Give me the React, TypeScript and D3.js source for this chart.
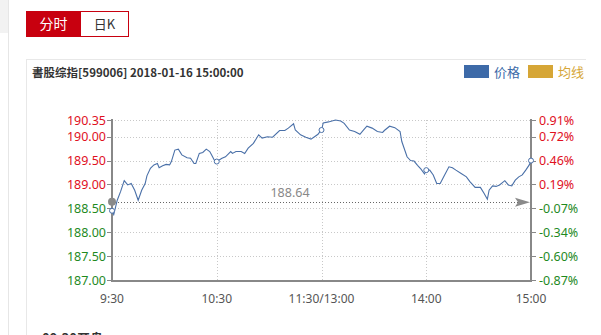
import React from "react";
import * as d3 from "d3";

const title = "書股综指[599006] 2018-01-16 15:00:00";
const prevClose = 188.64;
const priceTicks = [187.0, 187.5, 188.0, 188.5, 189.0, 189.5, 190.0, 190.35];
const timeTicks = [0, 60, 120, 180, 240];
const timeLabels = ["9:30", "10:30", "11:30/13:00", "14:00", "15:00"];
const minutes = [
  0, 1, 3, 5, 7, 9, 11, 13, 15, 17, 19, 20, 22, 24, 26, 27, 29, 31, 33, 34, 36, 38, 40, 43, 45, 47, 48, 50, 52,
  54, 56, 57, 59, 60, 63, 65, 68, 69, 71, 74, 76, 78, 81, 84, 86, 89, 92, 96, 99, 101, 104, 105, 108, 111, 114,
  116, 118, 119, 120, 121, 124, 128, 131, 133, 136, 139, 142, 144, 146, 149, 152, 155, 156, 159, 162, 165, 166,
  169, 171, 173, 175, 177, 179, 180, 182, 184, 186, 188, 190, 193, 195, 197, 200, 203, 205, 208, 211, 213, 215,
  216, 218, 220, 222, 225, 227, 229, 231, 233, 235, 237, 239, 240,
];
const prices = [
  188.45, 188.37, 188.67, 188.86, 189.08, 188.99, 189.02, 188.88, 188.67, 188.88, 189.02, 189.18, 189.34, 189.41,
  189.44, 189.35, 189.39, 189.42, 189.41, 189.48, 189.72, 189.74, 189.62, 189.56, 189.55, 189.44, 189.44, 189.65,
  189.67, 189.74, 189.69, 189.62, 189.48, 189.48, 189.55, 189.58, 189.69, 189.65, 189.69, 189.69, 189.65, 189.76,
  189.86, 190.04, 189.97, 190.0, 189.99, 190.13, 190.13, 190.18, 190.27, 190.14, 190.04, 189.99, 189.95, 190.0,
  190.05, 190.1, 190.14, 190.29, 190.31, 190.35, 190.33, 190.28, 190.14, 190.11, 190.05, 190.14, 190.22, 190.18,
  190.11, 190.09, 190.13, 190.22, 190.19, 190.11, 189.9, 189.58, 189.5, 189.49, 189.4, 189.32, 189.22, 189.3,
  189.3, 189.2, 189.02, 189.02, 189.16, 189.37, 189.35, 189.3, 189.23, 189.16, 189.06, 188.94, 188.94, 188.82,
  188.69, 188.88, 188.97, 188.96, 188.99, 189.08, 188.99, 188.97, 189.09, 189.16, 189.2, 189.3, 189.41, 189.5,
];
const markerMinutes = [0, 60, 120, 180, 240];

const RED = "#e0101e";
const GREEN = "#1f8a1f";
const FONT = "'Noto Sans', 'Noto Sans CJK SC', sans-serif";
const CJK = "'Noto Sans CJK SC', 'Noto Sans', sans-serif";

export default function App() {
  const left = 112;
  const right = 531;
  const top = 120;
  const bottom = 280;
  const x = d3.scaleLinear().domain([0, 240]).range([left, right]);
  const y = d3.scaleLinear().domain([187, 190.35]).range([bottom, top]);
  const data = minutes.map((m, i) => ({ m, p: prices[i] }));
  const line = d3
    .line<{ m: number; p: number }>()
    .x((d) => x(d.m))
    .y((d) => y(d.p));
  const pct = (v: number) => ((v - prevClose) / prevClose) * 100;
  const pctLabel = (v: number) => {
    const p = pct(v);
    const s = p.toFixed(2);
    return (s === "-0.00" ? "0.00" : s) + "%";
  };
  const yc = y(prevClose);

  return (
    <div style={{ position: "fixed", left: 0, top: 0, width: 601, height: 335, background: "#fff" }}>
      <svg width={601} height={335} style={{ display: "block" }}>
        {/* left side panel */}
        <rect x={0} y={0} width={8} height={33} fill="#f2f2f2" />
        <line x1={8.5} y1={0} x2={8.5} y2={335} stroke="#e6e6e6" />
        {/* tabs */}
        <rect x={26} y={11} width={55} height={26} fill="#c8000f" />
        <rect x={80.5} y={11.5} width={48} height={25} fill="#fff" stroke="#c8000f" />
        <text x={53.5} y={29} textAnchor="middle" fill="#fff" fontSize={14} fontFamily={CJK}>
          分时
        </text>
        <text x={104.5} y={29} textAnchor="middle" fill="#333" fontSize={13} fontFamily={CJK}>
          日K
        </text>
        {/* card */}
        <line x1={26} y1={59.5} x2={586} y2={59.5} stroke="#e8e8e8" />
        <line x1={26.5} y1={59} x2={26.5} y2={335} stroke="#e8e8e8" />
        <text x={32} y={77} fontSize={11.5} fontWeight="bold" fill="#333" fontFamily={CJK}>
          {title}
        </text>
        {/* legend */}
        <rect x={464} y={65} width={25} height={13} fill="#3d6aa8" />
        <text x={494} y={77} fontSize={13} fill="#3d6aa8" fontFamily={CJK}>
          价格
        </text>
        <rect x={528} y={65} width={25} height={13} fill="#d6a636" />
        <text x={558} y={77} fontSize={13} fill="#d6a636" fontFamily={CJK}>
          均线
        </text>

        {/* grid */}
        {priceTicks.map((t) => (
          <line
            key={"h" + t}
            x1={left}
            x2={right}
            y1={Math.round(y(t)) + 0.5}
            y2={Math.round(y(t)) + 0.5}
            stroke="#c8c8c8"
            strokeDasharray="1,2"
          />
        ))}
        {timeTicks.slice(1, -1).map((t) => (
          <line
            key={"v" + t}
            x1={Math.round(x(t)) + 0.5}
            x2={Math.round(x(t)) + 0.5}
            y1={top}
            y2={bottom}
            stroke="#c8c8c8"
            strokeDasharray="1,2"
          />
        ))}

        {/* prev close line */}
        <line x1={left} x2={518} y1={Math.round(yc) + 0.5} y2={Math.round(yc) + 0.5} stroke="#666" strokeDasharray="1,2" />
        <path d={`M515,${yc - 4} L530,${yc + 0.5} L515,${yc + 5} L518,${yc + 0.5} Z`} fill="#8a8a8a" />
        <text x={290} y={197} textAnchor="middle" fontSize={12.5} fill="#888" fontFamily={FONT}>
          {prevClose.toFixed(2)}
        </text>

        {/* axes */}
        <line x1={left} x2={left} y1={top - 1} y2={bottom + 2} stroke="#888" strokeWidth={2} />
        <line x1={right} x2={right} y1={top - 1} y2={bottom + 2} stroke="#888" strokeWidth={2} />
        <line x1={left} x2={right} y1={bottom + 1} y2={bottom + 1} stroke="#888" strokeWidth={2} />
        {priceTicks.map((t) => (
          <g key={"t" + t}>
            <line x1={left - 5} x2={left} y1={Math.round(y(t)) + 0.5} y2={Math.round(y(t)) + 0.5} stroke="#888" />
            <line x1={right} x2={right + 5} y1={Math.round(y(t)) + 0.5} y2={Math.round(y(t)) + 0.5} stroke="#888" />
            <text
              x={left - 6}
              y={y(t) + 4.5}
              textAnchor="end"
              fontSize={12.5}
              fill={t >= prevClose ? RED : GREEN}
              fontFamily={FONT}
            >
              {t.toFixed(2)}
            </text>
            <text x={right + 8} y={y(t) + 4.5} fontSize={12.5} fill={t >= prevClose ? RED : GREEN} fontFamily={FONT}>
              {pctLabel(t)}
            </text>
          </g>
        ))}
        {timeTicks.map((t, i) => (
          <text key={"x" + t} x={x(t)} y={303} textAnchor="middle" fontSize={12} fill="#555" fontFamily={FONT}>
            {timeLabels[i]}
          </text>
        ))}

        {/* price line */}
        <path d={line(data) || ""} fill="none" stroke="#4a70a8" strokeWidth={1.1} />
        {markerMinutes.map((m) => {
          const d = data.find((e) => e.m === m)!;
          return <circle key={"c" + m} cx={x(d.m)} cy={y(d.p)} r={2.5} fill="#fff" stroke="#4a70a8" strokeWidth={1} />;
        })}
        <circle cx={left} cy={yc} r={4} fill="#8a8a8a" />

        {/* cut-off footer */}
        <text x={42} y={343} fontSize={13} fontWeight="bold" fill="#333" fontFamily={CJK}>
          09:30开盘
        </text>
      </svg>
    </div>
  );
}
